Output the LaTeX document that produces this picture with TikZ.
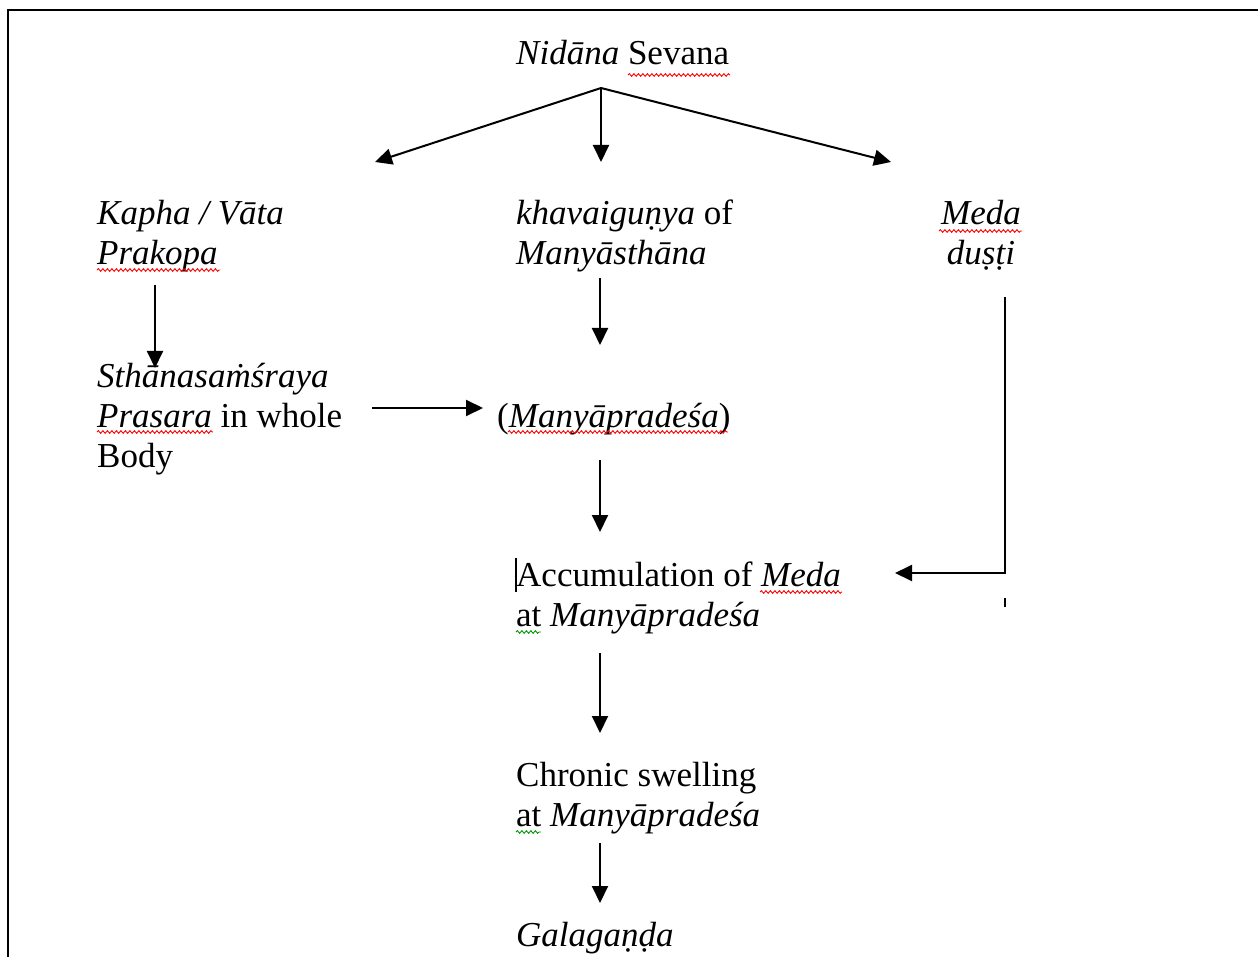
\documentclass[tikz,border=0pt]{standalone}
\usepackage{fontspec}
\setmainfont{Liberation Serif}
\usetikzlibrary{arrows.meta,decorations.pathmorphing}
\begin{document}
\begin{tikzpicture}[x=1pt,y=-1pt,
  txt/.style={anchor=base west,inner sep=0pt,align=left,font=\fontsize{35}{40}\selectfont},
  arr/.style={line width=2pt,-{Triangle[length=17pt,width=16pt]}},
  spell/.style={draw=red,line width=0.9pt,decorate,decoration={snake,amplitude=1.3pt,segment length=4.5pt}},
  grammar/.style={spell,draw=green!60!black}]
\useasboundingbox (0,0) rectangle (1258,957);
\draw[line width=1.5pt] (1258,10) -- (8,10) -- (8,957);

% text nodes (multi-line nodes are placed by the baseline of their last line)
\node[txt] (top) at (516,65) {\itshape Nidāna\upshape{} Sevana};
\node[txt] (kapha) at (97,265) {\itshape Kapha / Vāta\\\itshape Prakopa};
\node[txt] (khav) at (516,265) {\itshape khavaiguṇya\upshape{} of\\\itshape Manyāsthāna};
\node[txt,anchor=base,align=center] (meda) at (981,265) {\itshape Meda\\\itshape duṣṭi};
\node[txt] (sthana) at (97,467) {\itshape Sthānasaṁśraya\\\itshape Prasara\upshape{} in whole\\Body};
\node[txt] (mp) at (497,427) {(\itshape Manyāpradeśa\upshape)};
\node[txt] (acc) at (516,626) {Accumulation of \itshape Meda\\at \itshape Manyāpradeśa};
\node[txt] (chr) at (516,826) {Chronic swelling\\at \itshape Manyāpradeśa};
\node[txt] (gal) at (516,946) {\itshape Galagaṇḍa};

% connector points
\coordinate (fork) at (601,88);
\coordinate (kaphaIn) at (375,162);
\coordinate (khavIn) at (601,162);
\coordinate (medaIn) at (891,162);
\coordinate (kaphaOut) at (155,285);
\coordinate (sthanaIn) at (155,368);
\coordinate (khavOut) at (600,278);
\coordinate (mpTop) at (600,345);
\coordinate (sthanaOut) at (372,408);
\coordinate (mpIn) at (483,408);
\coordinate (mpOut) at (600,460);
\coordinate (accIn) at (600,532);
\coordinate (medaOut) at (1005,297);
\coordinate (medaBend) at (1005,573);
\coordinate (accRight) at (895,573);
\coordinate (accOut) at (600,653);
\coordinate (chrIn) at (600,733);
\coordinate (chrOut) at (600,843);
\coordinate (galIn) at (600,903);

% connectors
\draw[arr] (fork) -- (kaphaIn);
\draw[arr] (fork) -- (khavIn);
\draw[arr] (fork) -- (medaIn);
\draw[arr] (kaphaOut) -- (sthanaIn);
\draw[arr] (khavOut) -- (mpTop);
\draw[arr] (sthanaOut) -- (mpIn);
\draw[arr] (mpOut) -- (accIn);
\draw[arr] (medaOut) -- (medaBend) -- (accRight);
\draw[arr] (accOut) -- (chrIn);
\draw[arr] (chrOut) -- (galIn);

% small marks
\draw[line width=1.5pt] (1005,598) -- (1005,607);
\draw[line width=2pt] (516,558) -- (516,592);

% spell-check underlines
\draw[spell] (628,75) -- (730,75);
\draw[spell] (97,270) -- (220,270);
\draw[spell] (97,432) -- (213,432);
\draw[spell] (939,231) -- (1022,231);
\draw[spell] (508,432) -- (728,432);
\draw[spell] (760,592) -- (842,592);
\draw[grammar] (516,632) -- (541,632);
\draw[grammar] (516,832) -- (541,832);
\end{tikzpicture}
\end{document}
